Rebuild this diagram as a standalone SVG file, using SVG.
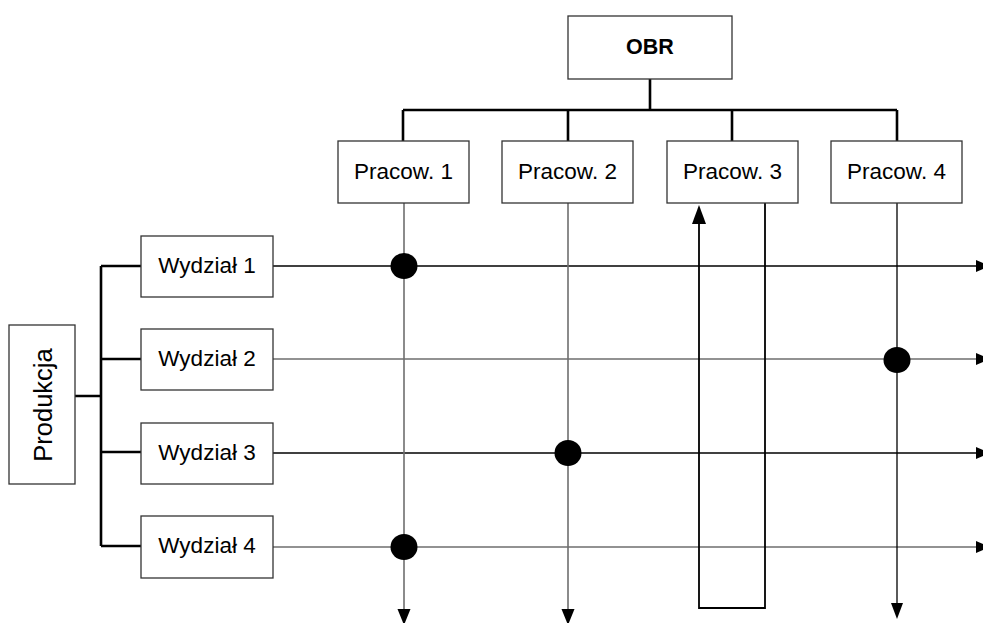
<svg xmlns="http://www.w3.org/2000/svg" width="983" height="623" viewBox="0 0 983 623">
<style>
.box{fill:#fff;stroke:#333;stroke-width:1.3}
.t{font-family:"Liberation Sans",Arial,sans-serif;font-size:22.5px;fill:#000;text-anchor:middle}
.b{font-weight:bold;font-size:21.5px}
.thick{fill:none;stroke:#000;stroke-width:2.6}
.blk{fill:none;stroke:#000;stroke-width:1.3}
.gry{fill:none;stroke:#6e6e6e;stroke-width:1.6}
.loop{fill:none;stroke:#000;stroke-width:1.8}
.ah{fill:#000}
</style>
<g id="connectors">
  <path class="thick" d="M650,79V110M403,110H897M403,110V141M568,110V141M732,110V141M897,110V141"/>
  <path class="thick" d="M75,396H101M101,266V546M101,266H141M101,359H141M101,452H141M101,546H141"/>
  <path class="blk" d="M273,266H978"/>
  <path class="gry" d="M273,359H978"/>
  <path class="blk" d="M273,453H978"/>
  <path class="gry" d="M273,547H978"/>
  <path class="gry" d="M404,203V611"/>
  <path class="gry" d="M568,203V611"/>
  <path class="blk" d="M897,203V605"/>
  <path class="loop" d="M765,203V608H699V222"/>
  <polygon class="ah" points="976,260 976,272 990,266"/>
  <polygon class="ah" points="976,353 976,365 990,359"/>
  <polygon class="ah" points="976,447 976,459 990,453"/>
  <polygon class="ah" points="976,541 976,553 990,547"/>
  <polygon class="ah" points="397.5,609 410.5,609 404,625"/>
  <polygon class="ah" points="561.5,609 574.5,609 568,625"/>
  <polygon class="ah" points="891,603 903,603 897,619"/>
  <polygon class="ah" points="692,224 706,224 699,205"/>
  <ellipse class="ah" cx="404" cy="266" rx="13.5" ry="13"/>
  <ellipse class="ah" cx="897" cy="360" rx="13.5" ry="13"/>
  <ellipse class="ah" cx="568" cy="453" rx="13.5" ry="13"/>
  <ellipse class="ah" cx="404" cy="547" rx="13.5" ry="13"/>
</g>
<g id="obr"><rect class="box" x="568" y="16" width="164" height="63"/><text class="t b" x="650" y="54">OBR</text></g>
<g id="pracow1"><rect class="box" x="338" y="141" width="131" height="62"/><text class="t" x="403.5" y="179">Pracow. 1</text></g>
<g id="pracow2"><rect class="box" x="502" y="141" width="131" height="62"/><text class="t" x="567.5" y="179">Pracow. 2</text></g>
<g id="pracow3"><rect class="box" x="667" y="141" width="131" height="62"/><text class="t" x="732.5" y="179">Pracow. 3</text></g>
<g id="pracow4"><rect class="box" x="831" y="141" width="131" height="62"/><text class="t" x="896.5" y="179">Pracow. 4</text></g>
<g id="produkcja"><rect class="box" x="9" y="325" width="66" height="159"/><text class="t" style="font-size:25.5px" transform="translate(52,405) rotate(-90)">Produkcja</text></g>
<g id="wydzial1"><rect class="box" x="141" y="236" width="132" height="61"/><text class="t" x="207" y="273">Wydział 1</text></g>
<g id="wydzial2"><rect class="box" x="141" y="329" width="132" height="61"/><text class="t" x="207" y="366">Wydział 2</text></g>
<g id="wydzial3"><rect class="box" x="141" y="423" width="132" height="61"/><text class="t" x="207" y="460">Wydział 3</text></g>
<g id="wydzial4"><rect class="box" x="141" y="516" width="132" height="62"/><text class="t" x="207" y="553">Wydział 4</text></g>
</svg>
